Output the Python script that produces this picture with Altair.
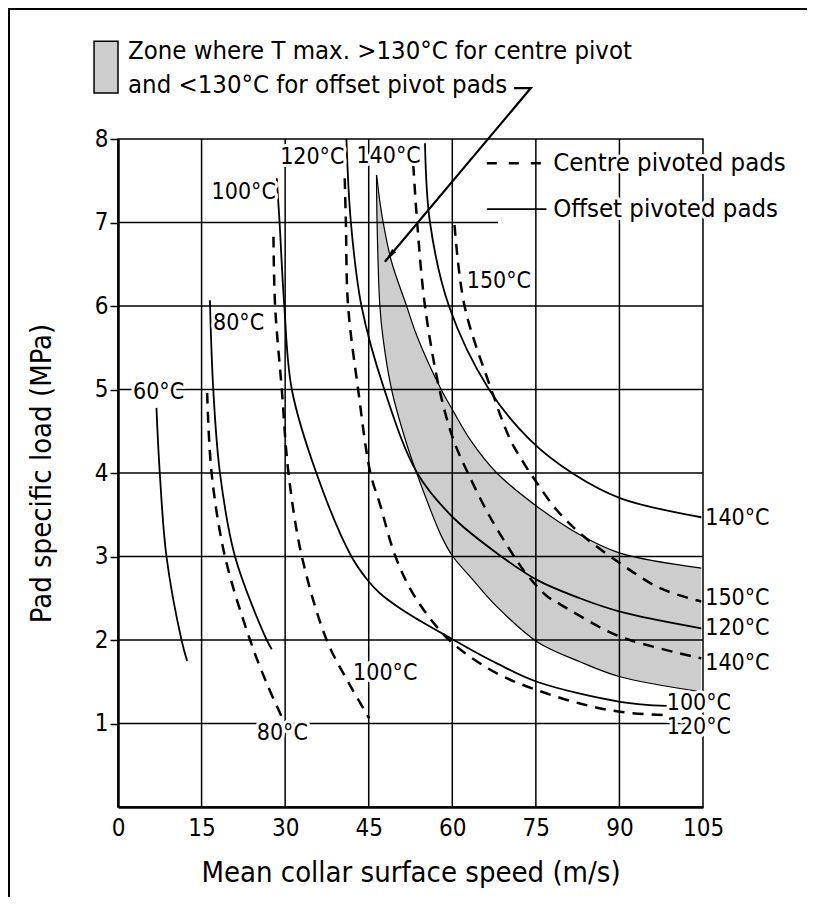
import altair as alt
import pandas as pd

# ---------------- data ----------------
# Offset pivoted pads (solid)
off60_x = [6.9, 7.5, 8.7, 11.4, 12.4]
off60_y = [4.78, 4.0, 3.0, 2.0, 1.75]
off80_x = [16.5, 17.1, 18.3, 21.0, 26.7, 27.6]
off80_y = [6.07, 5.0, 4.0, 3.0, 2.0, 1.89]
off100_x = [28.5, 29.0, 29.85, 31.2, 35.6, 41.9, 45.0, 47.0, 50.6, 54.2, 60.0, 64.0, 68.0, 75.2, 90.1, 98.5]
off100_y = [7.53, 7.0, 6.0, 5.0, 4.0, 3.0, 2.70, 2.56, 2.38, 2.23, 2.01, 1.86, 1.72, 1.50, 1.26, 1.21]
off120_x = [41.0, 41.8, 43.7, 47.8, 53.7, 60.1, 68.0, 75.2, 82.9, 90.1, 104.7]
off120_y = [8.0, 7.0, 6.0, 5.0, 4.0, 3.47, 3.04, 2.72, 2.50, 2.34, 2.14]
off140_x = [55.1, 56.0, 59.4, 66.6, 73.9, 81.5, 90.1, 104.7]
off140_y = [7.95, 7.0, 6.0, 5.0, 4.4, 4.0, 3.7, 3.47]

# Centre pivoted pads (dashed)
cen80_x = [16.0, 16.8, 19.2, 23.7, 26.7, 29.4]
cen80_y = [4.96, 4.0, 3.0, 2.0, 1.48, 1.08]
cen100_x = [27.9, 28.2, 29.4, 30.6, 33.0, 37.45, 41.3, 45.1]
cen100_y = [6.83, 6.0, 5.0, 4.0, 3.0, 2.0, 1.5, 1.06]
cen120_x = [40.7, 40.9, 41.3, 43.1, 45.3, 47.0, 49.8, 53.0, 57.2, 60.8, 68.0, 75.2, 82.9, 90.1, 98.2]
cen120_y = [7.53, 7.0, 6.0, 5.0, 4.0, 3.63, 3.0, 2.55, 2.16, 1.92, 1.6, 1.4, 1.24, 1.14, 1.10]
cen140_x = [53.0, 53.7, 55.1, 57.7, 60.2, 62.8, 66.8, 71.3, 73.2, 76.9, 79.3, 82.6, 90.1, 104.7]
cen140_y = [7.69, 7.0, 6.0, 5.0, 4.4, 4.0, 3.47, 2.98, 2.80, 2.53, 2.43, 2.30, 2.04, 1.78]
cen150_x = [60.4, 62.2, 67.0, 70.4, 73.0, 75.2, 78.7, 82.9, 90.1, 97.3, 104.7]
cen150_y = [6.97, 6.0, 5.0, 4.4, 4.1, 3.88, 3.56, 3.28, 2.92, 2.62, 2.46]

# Shaded zone (130 degC for centre pivot = lower edge, offset pivot = upper edge)
shade_x = [46.4, 46.5, 47.0, 47.6, 49.1, 51.8, 53.6, 58.0, 60.1, 63.2, 68.0, 75.2, 82.9, 90.1, 104.7]
shade_upper = [7.57, 7.52, 7.25, 7.0, 6.53, 6.0, 5.65, 5.0, 4.75, 4.4, 4.0, 3.6, 3.26, 3.04, 2.86]
shade_lower = [7.57, 7.0, 6.0, 5.6, 5.0, 4.35, 4.0, 3.25, 3.0, 2.76, 2.4, 1.98, 1.74, 1.56, 1.38]

# Curve labels (text, x, y)
label_text = ["60°C", "80°C", "100°C", "120°C", "140°C", "150°C", "80°C", "100°C",
              "140°C", "150°C", "120°C", "140°C", "100°C", "120°C"]
label_x = [2.69, 17.05, 16.8, 29.1, 42.8, 62.6, 24.9, 42.2,
           105.4, 105.4, 105.4, 105.4, 98.5, 98.5]
label_y = [4.97, 5.80, 7.36, 7.79, 7.80, 6.30, 0.89, 1.61,
           3.46, 2.50, 2.14, 1.72, 1.25, 0.96]

# Legend / key texts
key_text = ["Centre pivoted pads", "Offset pivoted pads",
            "Zone where T max. >130°C for centre pivot",
            "and <130°C for offset pivot pads"]
key_x = [78.1, 78.1, 1.8, 1.8]
key_y = [7.71, 7.16, 9.05, 8.65]

# Leader line from the zone note to the shaded area
lead_x = [71.1, 74.1, 47.9]
lead_y = [8.61, 8.61, 6.53]

# Grid
vgrid = [15, 30, 45, 60, 75, 90]
hgrid = [1, 2, 3, 4, 5, 6, 7]
hgrid_end = [105, 105, 105, 105, 105, 105, 68.2]

x_ticks = [0, 15, 30, 45, 60, 75, 90, 105]
y_ticks = [1, 2, 3, 4, 5, 6, 7, 8]

FONT = "DejaVu Sans Condensed"
CURVE = "catmull-rom"

# ---------------- tables ----------------
curves = [
    ("off60", "solid", off60_x, off60_y), ("off80", "solid", off80_x, off80_y),
    ("off100", "solid", off100_x, off100_y), ("off120", "solid", off120_x, off120_y),
    ("off140", "solid", off140_x, off140_y),
    ("cen80", "dash", cen80_x, cen80_y), ("cen100", "dash", cen100_x, cen100_y),
    ("cen120", "dash", cen120_x, cen120_y), ("cen140", "dash", cen140_x, cen140_y),
    ("cen150", "dash", cen150_x, cen150_y),
]
rows = []
for name, kind, xs_, ys_ in curves:
    for i, (a, b) in enumerate(zip(xs_, ys_)):
        rows.append({"curve": name, "kind": kind, "i": i, "x": a, "y": b})
cdf = pd.DataFrame(rows)
solid_df = cdf[cdf.kind == "solid"]
dash_df = cdf[cdf.kind == "dash"]

shade_df = pd.DataFrame({"x": shade_x, "lo": shade_lower, "hi": shade_upper,
                         "i": list(range(len(shade_x)))})
lab_df = pd.DataFrame({"t": label_text, "x": label_x, "y": label_y})
key_df = pd.DataFrame({"t": key_text, "x": key_x, "y": key_y})
lead_df = pd.DataFrame({"x": lead_x, "y": lead_y, "i": [0, 1, 2]})
vg_df = pd.DataFrame({"x": vgrid, "y": [0] * len(vgrid), "y2": [8] * len(vgrid)})
hg_df = pd.DataFrame({"x": [0] * len(hgrid), "x2": hgrid_end, "y": hgrid})
sample_df = pd.DataFrame({"x": [66.2, 76.9], "y": [key_y[0], key_y[0]], "y_s": [key_y[1], key_y[1]]})
swatch_df = pd.DataFrame({"x": [-4.3], "x2": [0.0], "y": [9.17], "y2": [8.55]})
arrow_df = pd.DataFrame({"x": [lead_x[-1]], "y": [lead_y[-1]]})
one = pd.DataFrame({"k": [0]})

xs = alt.Scale(domain=[0, 105], nice=False, zero=False)
ys = alt.Scale(domain=[0, 8], nice=False, zero=False)
X = alt.X("x:Q", scale=xs, title="Mean collar surface speed (m/s)",
          axis=alt.Axis(values=x_ticks, format="d", grid=False, ticks=False, tickSize=0, labelPadding=9,
                        domainWidth=2.5, domainColor="black", labelColor="black",
                        labelFontSize=24, labelFont=FONT, titleFont=FONT, titleFontSize=29,
                        titleFontWeight="normal", titleColor="black", titleY=65,
                        titleBaseline="middle", labelFlush=False))
Y = alt.Y("y:Q", scale=ys, title="Pad specific load (MPa)",
          axis=alt.Axis(values=y_ticks, format="d", grid=False, ticks=True, tickSize=8, tickWidth=1.5,
                        tickColor="black", labelPadding=2, domainWidth=2.5, domainColor="black",
                        labelColor="black", labelFontSize=24, labelFont=FONT, titleFont=FONT,
                        titleFontSize=29, titleFontWeight="normal", titleColor="black",
                        titleX=-77, titleY=334, titleBaseline="middle", titleAlign="center",
                        labelFlush=False))

shade = alt.Chart(shade_df).mark_area(fill="#cdcdcd", fillOpacity=1, interpolate=CURVE).encode(
    x=X, y=alt.Y("lo:Q", scale=ys), y2="hi:Q")
vgrid_l = alt.Chart(vg_df).mark_rule(color="black", strokeWidth=1.5).encode(x=X, y=Y, y2="y2:Q")
hgrid_l = alt.Chart(hg_df).mark_rule(color="black", strokeWidth=1.5).encode(x=X, x2="x2:Q", y=Y)
edge_lo = alt.Chart(shade_df).mark_line(color="black", strokeWidth=1.2, interpolate=CURVE).encode(
    x=X, y=alt.Y("lo:Q", scale=ys), order="i:Q")
edge_hi = alt.Chart(shade_df).mark_line(color="black", strokeWidth=1.2, interpolate=CURVE).encode(
    x=X, y=alt.Y("hi:Q", scale=ys), order="i:Q")
solid = alt.Chart(solid_df).mark_line(color="black", strokeWidth=1.8, interpolate=CURVE).encode(
    x=X, y=Y, detail="curve:N", order="i:Q")
dashed = alt.Chart(dash_df).mark_line(color="black", strokeWidth=2.5, strokeDash=[11, 8],
                                       interpolate=CURVE).encode(
    x=X, y=Y, detail="curve:N", order="i:Q")
lead = alt.Chart(lead_df).mark_line(color="black", strokeWidth=2.2).encode(x=X, y=Y, order="i:Q")
arrow = alt.Chart(arrow_df).mark_point(shape="M0,0L-0.32,-1.8L0.32,-1.8Z", filled=True, size=256,
                                        angle=40, color="black", opacity=1).encode(x=X, y=Y)
samp_d = alt.Chart(sample_df).mark_line(color="black", strokeWidth=2.5, strokeDash=[10, 12]).encode(x=X, y=Y)
samp_s = alt.Chart(sample_df).mark_line(color="black", strokeWidth=1.8).encode(
    x=X, y=alt.Y("y_s:Q", scale=ys))
swatch = alt.Chart(swatch_df).mark_rect(fill="#cdcdcd", stroke="black", strokeWidth=1.5).encode(
    x=X, x2="x2:Q", y=Y, y2="y2:Q")

def texts(df, size):
    halo = alt.Chart(df).mark_text(align="left", baseline="middle", font=FONT, fontSize=size,
                                   color="white", stroke="white", strokeWidth=6,
                                   strokeJoin="round").encode(x=X, y=Y, text="t:N")
    txt = alt.Chart(df).mark_text(align="left", baseline="middle", font=FONT, fontSize=size,
                                  color="black").encode(x=X, y=Y, text="t:N")
    return [halo, txt]

# outer drawing frame (right and bottom edges fall outside the page, as in the original)
frame = alt.Chart(one).mark_rect(fillOpacity=0, stroke="black", strokeWidth=2).encode(
    x=alt.value(-109), x2=alt.value(760), y=alt.value(-130), y2=alt.value(900))

layers = [shade, vgrid_l, hgrid_l, edge_lo, edge_hi, solid, dashed, lead, arrow,
          samp_d, samp_s, swatch] + texts(lab_df, 23) + texts(key_df, 25.5) + [frame]

chart = alt.layer(*layers).properties(
    width=585, height=668,
    autosize=alt.AutoSizeParams(type="none"),
    padding={"left": 110, "top": 131, "right": 104, "bottom": 90},
    background="white",
).configure_view(stroke="black", strokeWidth=1.5).configure_text(font=FONT)

chart.save("out.html", embed_options={"renderer": "svg", "actions": False})
